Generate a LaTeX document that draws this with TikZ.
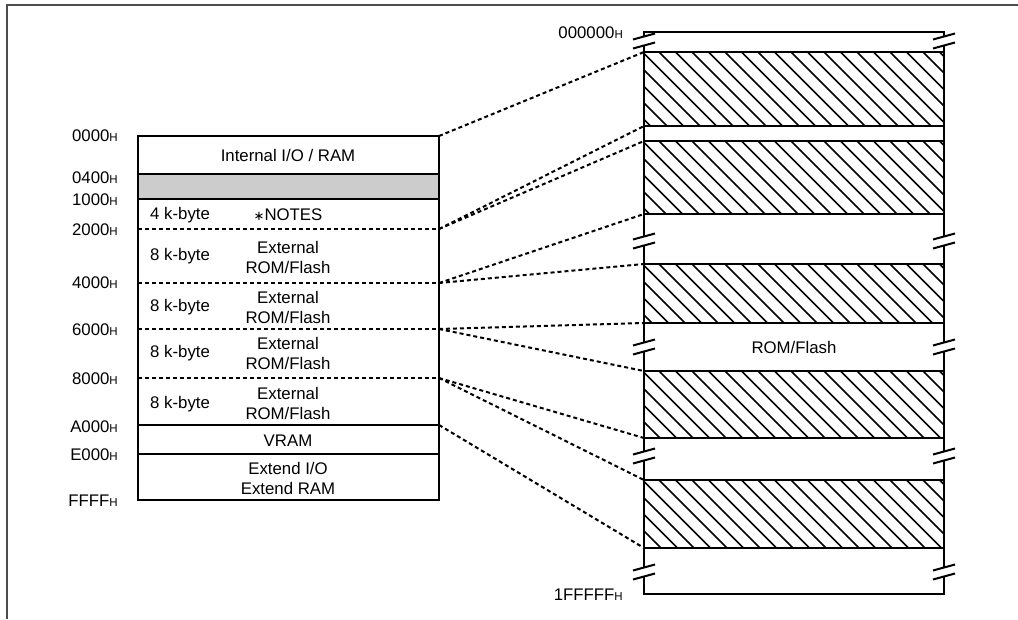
\documentclass[tikz,border=0pt]{standalone}
\usepackage{fontspec}
\setmainfont{Liberation Sans}
\newfontfamily\djvfont{DejaVu Sans}
\newcommand\hsub{{\fontsize{11.5}{12}\selectfont H}}
\begin{document}
\begin{tikzpicture}[x=1pt,y=-1pt,
  box/.style={line width=2.3pt, draw=black},
  sepline/.style={line width=2pt, dash pattern=on 4pt off 3pt},
  conn/.style={line width=2pt, dash pattern=on 4pt off 3pt},
  lbl/.style={font=\fontsize{16.8}{20}\selectfont, anchor=east, inner sep=0pt},
  lblw/.style={font=\fontsize{16.8}{20}\selectfont, anchor=west, inner sep=0pt},
  txt/.style={font=\fontsize{16.8}{20}\selectfont, align=center, inner sep=0pt},
  hatchline/.style={line width=1.7pt},
  brk/.pic={
    \fill[white] (-11,-1.5) -- (11,-7.5) -- (11,1.5) -- (-11,7.5) -- cycle;
    \draw[line width=2pt] (-11,-1.5) -- (11,-7.5);
    \draw[line width=2pt] (-11,7.5) -- (11,1.5);
  }]
\useasboundingbox (0,0) rectangle (1018,619);
% frame
\draw[line width=1.6pt, draw=black!70] (7,619) -- (7,5) -- (1018,5);

% ---------- left memory map ----------
\fill[black!20] (138,174) rectangle (439,199);
\draw[box] (138,136) rectangle (439,500);
\draw[box] (138,174) -- (439,174);
\draw[box] (138,199) -- (439,199);
\draw[box] (138,425) -- (439,425);
\draw[box] (138,454) -- (439,454);
\foreach \yy in {229,283,329,378} \draw[sepline] (138,\yy) -- (439,\yy);

\coordinate (a0) at (439,136);
\coordinate (a2) at (439,229);
\coordinate (a4) at (439,283);
\coordinate (a6) at (439,329);
\coordinate (a8) at (439,378);
\coordinate (aA) at (439,425);

% address labels
\node[lbl] (h0000) at (118,136) {0000\hsub};
\node[lbl] (h0400) at (118,178) {0400\hsub};
\node[lbl] (h1000) at (118,200) {1000\hsub};
\node[lbl] (h2000) at (118,230) {2000\hsub};
\node[lbl] (h4000) at (118,283) {4000\hsub};
\node[lbl] (h6000) at (118,330) {6000\hsub};
\node[lbl] (h8000) at (118,379) {8000\hsub};
\node[lbl] (hA000) at (118,427) {A000\hsub};
\node[lbl] (hE000) at (118,455) {E000\hsub};
\node[lbl] (hFFFF) at (118,501) {FFFF\hsub};

% texts in left map
\node[txt] (tio) at (288,155) {Internal I/O / RAM};
\node[lblw] (k4) at (150,215) {4 k-byte};
\node[txt] (tnotes) at (288,215) {{\djvfont\fontsize{13}{13}\selectfont ∗}NOTES};
\node[lblw] (k8a) at (150,256) {8 k-byte};
\node[txt] (te1) at (288,257) {External\\ROM/Flash};
\node[lblw] (k8b) at (150,307) {8 k-byte};
\node[txt] (te2) at (288,307) {External\\ROM/Flash};
\node[lblw] (k8c) at (150,353) {8 k-byte};
\node[txt] (te3) at (288,353) {External\\ROM/Flash};
\node[lblw] (k8d) at (150,404) {8 k-byte};
\node[txt] (te4) at (288,403) {External\\ROM/Flash};
\node[txt] (tvram) at (288,441) {VRAM};
\node[txt] (text) at (288,478) {Extend I/O\\Extend RAM};

% ---------- right memory map ----------
\foreach \ta/\tb in {52/126,141/214,264/323,371/438,480/548}{
  \begin{scope}
    \clip (644,\ta) rectangle (944,\tb);
    \foreach \xx in {560,576.5,...,960} \draw[hatchline] (\xx,\ta) -- ++(100,100);
  \end{scope}
}
\draw[box] (644,32) rectangle (944,594);
\foreach \yy in {52,126,141,214,264,323,371,438,480,548}
  \draw[box] (644,\yy) -- (944,\yy);

\foreach \yy in {41,241,347,456,572}{
  \pic at (644,\yy) {brk};
  \pic at (944,\yy) {brk};
}

\coordinate (r52) at (644,52);
\coordinate (r126) at (644,126);
\coordinate (r141) at (644,141);
\coordinate (r214) at (644,214);
\coordinate (r264) at (644,264);
\coordinate (r323) at (644,323);
\coordinate (r371) at (644,371);
\coordinate (r438) at (644,438);
\coordinate (r480) at (644,480);
\coordinate (r548) at (644,548);

\node[lbl] (htop) at (623,33) {000000\hsub};
\node[lbl] (hbot) at (623,595) {1FFFFF\hsub};
\node[txt] (trom) at (794,347) {ROM/Flash};

% ---------- connectors ----------
\draw[conn] (a0) -- (r52);
\draw[conn] (a2) -- (r126);
\draw[conn] (a2) -- (r141);
\draw[conn] (a4) -- (r214);
\draw[conn] (a4) -- (r264);
\draw[conn] (a6) -- (r323);
\draw[conn] (a6) -- (r371);
\draw[conn] (a8) -- (r438);
\draw[conn] (a8) -- (r480);
\draw[conn] (aA) -- (r548);
\end{tikzpicture}
\end{document}
